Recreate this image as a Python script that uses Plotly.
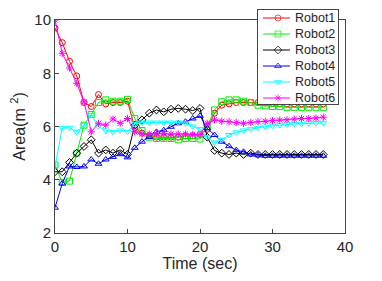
import plotly.graph_objects as go

time = list(range(38))

robot1 = [9.7, 9.15, 8.45, 7.9, 6.9, 6.75, 7.2, 6.85, 6.9, 6.9, 6.95,
          5.95, 5.75, 5.65, 5.6, 5.6, 5.6, 5.6, 5.65, 5.65, 5.7,
          5.9, 6.5, 6.8, 6.85, 6.9, 6.9, 6.9, 6.9, 6.88, 6.87, 6.86, 6.85, 6.85, 6.85, 6.85, 6.85, 6.85]
robot2 = [4.55, 3.9, 3.95, 5.0, 6.05, 6.45, 6.9, 7.0, 6.95, 6.95, 7.02,
          6.3, 5.85, 5.6, 5.55, 5.55, 5.55, 5.5, 5.55, 5.55, 5.53,
          6.0, 6.62, 6.93, 7.0, 7.0, 6.95, 6.9, 6.8, 6.78, 6.75, 6.75, 6.72, 6.72, 6.72, 6.72, 6.72, 6.72]
robot3 = [4.3, 4.3, 4.65, 5.0, 5.25, 5.5, 5.0, 5.12, 5.0, 5.12, 4.95,
          6.05, 6.25, 6.5, 6.62, 6.55, 6.65, 6.68, 6.65, 6.6, 6.68,
          5.6, 5.1, 5.0, 4.95, 5.0, 4.95, 5.0, 4.95, 4.95, 4.95, 4.95, 4.95, 4.95, 4.95, 4.95, 4.95, 4.95]
robot4 = [2.95, 3.86, 4.5, 4.48, 4.5, 4.76, 4.6, 4.76, 4.86, 4.96, 4.84,
          5.2, 5.43, 5.61, 5.8, 5.86, 5.99, 6.12, 6.18, 6.3, 6.4,
          5.93, 5.68, 5.43, 5.26, 5.11, 5.05, 4.95, 4.92, 4.9, 4.9, 4.9, 4.9, 4.9, 4.9, 4.9, 4.9, 4.9]
robot5 = [4.5, 5.95, 5.95, 5.8, 6.05, 6.43, 6.0, 5.85, 5.8, 5.85, 5.8,
          6.1, 6.15, 6.15, 6.15, 6.15, 6.15, 6.15, 6.12, 6.0, 5.9,
          5.6, 5.4, 5.5, 5.68, 5.78, 5.85, 5.9, 5.95, 6.0, 6.03, 6.05, 6.08, 6.1, 6.1, 6.12, 6.13, 6.14]
robot6 = [10.0, 8.75, 8.2, 7.62, 6.92, 5.8, 6.12, 6.05, 6.28, 6.12, 6.3,
          5.8, 5.72, 5.72, 5.74, 5.74, 5.72, 5.72, 5.72, 5.7, 5.7,
          6.12, 6.25, 6.2, 6.18, 6.15, 6.12, 6.15, 6.18, 6.2, 6.22, 6.24, 6.25, 6.28, 6.3, 6.3, 6.32, 6.35]

names = ["Robot1", "Robot2", "Robot3", "Robot4", "Robot5", "Robot6"]
values = [robot1, robot2, robot3, robot4, robot5, robot6]
colors = ["#ff0000", "#00ee00", "#000000", "#0000ff", "#00ffff", "#ff00ff"]
symbols = ["circle-open", "square-open", "diamond-open",
           "triangle-up-open", "triangle-down-open", "asterisk-open"]

FONT = "Liberation Sans, Arial, Helvetica"
AXC = "#444444"
TXT = "#262626"

fig = go.Figure()
for name, vals, col, sym in zip(names, values, colors, symbols):
    fig.add_trace(go.Scatter(
        x=time, y=vals, name=name, mode="lines+markers",
        line=dict(color=col, width=1),
        marker=dict(symbol=sym, size=6, color=col, line=dict(color=col, width=1)),
        showlegend=False, xaxis="x", yaxis="y",
    ))

# custom legend drawn in a small inset subplot (units: pixels inside the box)
for i, (name, col, sym) in enumerate(zip(names, colors, symbols)):
    yc = 8.5 + 16 * i
    fig.add_trace(go.Scatter(
        x=[5, 20, 32], y=[yc, yc, yc], mode="lines+markers",
        line=dict(color=col, width=1),
        marker=dict(symbol=sym, size=[0, 6, 0], color=col, line=dict(color=col, width=1)),
        showlegend=False, hoverinfo="skip", xaxis="x2", yaxis="y2", cliponaxis=False,
    ))
    fig.add_annotation(x=35, y=yc, xref="x2", yref="y2", text=name, showarrow=False,
                       xanchor="left", yanchor="middle",
                       font=dict(family=FONT, size=12.5, color=TXT))

axis_common = dict(
    showgrid=False, zeroline=False, showline=True, mirror=True, automargin=False,
    linecolor=AXC, linewidth=1, ticks="inside", ticklen=4,
    tickcolor=AXC, tickfont=dict(family=FONT, size=15, color=TXT),
)
inset_axis = dict(showgrid=False, zeroline=False, showline=True, mirror=True,
                  linecolor=AXC, linewidth=1, ticks="", showticklabels=False,
                  fixedrange=True, automargin=False)

# page has an 8px body margin: figure is offset by (8, 8) in the window
fig.update_layout(
    width=374, height=273,
    margin=dict(l=47, r=37, t=0, b=48),
    paper_bgcolor="white", plot_bgcolor="white",
    font=dict(family=FONT, color=TXT),
    xaxis=dict(domain=[0, 1], range=[0, 40], tickvals=[0, 10, 20, 30, 40], anchor="y",
               title=dict(text="Time (sec)", font=dict(size=16), standoff=3), **axis_common),
    yaxis=dict(domain=[0, 213 / 225], range=[2, 10], tickvals=[2, 4, 6, 8, 10], anchor="x",
               title=dict(text="Area(m <sup>2</sup>)", font=dict(size=16), standoff=8), **axis_common),
    xaxis2=dict(domain=[203 / 290, 283 / 290], range=[0, 80], anchor="y2", **inset_axis),
    yaxis2=dict(domain=[129 / 225, 223.5 / 225], range=[94.5, 0], anchor="x2", **inset_axis),
    showlegend=False,
)

fig.write_html("out.html")
